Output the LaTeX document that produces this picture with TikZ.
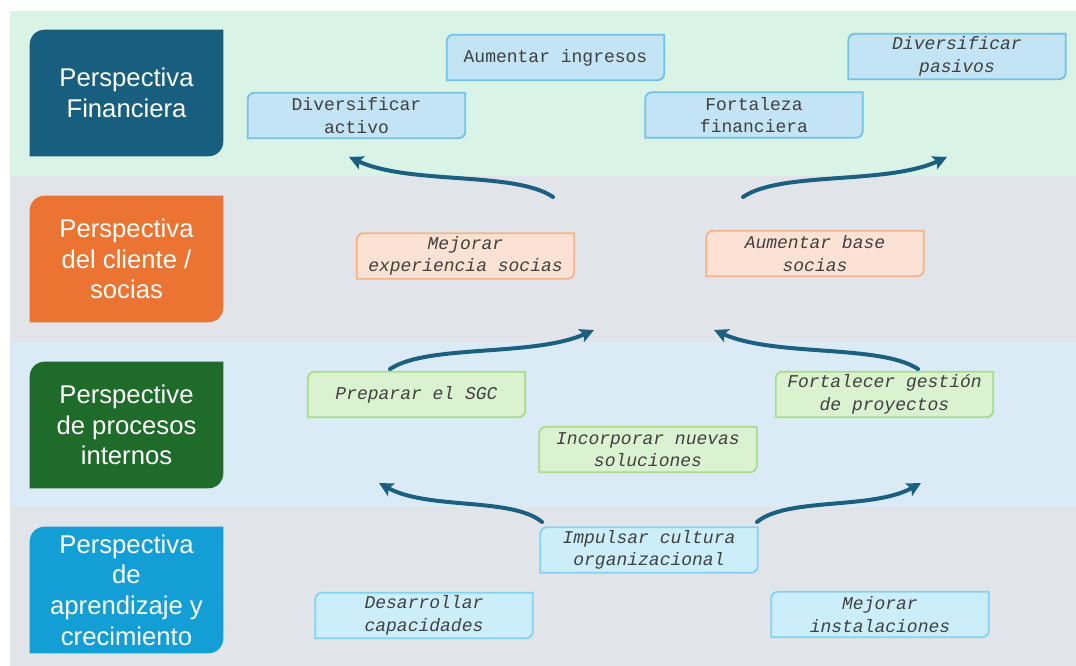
\documentclass[tikz,border=0pt]{standalone}
\usepackage{fontspec}
\setmainfont{Liberation Sans}
\newfontfamily\boxmono{Liberation Mono}
\usetikzlibrary{arrows.meta}
\pgfdeclarelayer{boxbg}
\pgfsetlayers{boxbg,main}
\definecolor{bandgreen}{HTML}{D9F3E6}
\definecolor{bandgray}{HTML}{E1E4E9}
\definecolor{bandblue}{HTML}{DBEBF5}
\definecolor{labfin}{HTML}{175E7F}
\definecolor{labcli}{HTML}{EC7432}
\definecolor{labpro}{HTML}{1E6B2A}
\definecolor{lablea}{HTML}{139FD6}
\definecolor{finfill}{HTML}{C2E4F4}
\definecolor{finline}{HTML}{75C2E8}
\definecolor{clifill}{HTML}{FBE2D4}
\definecolor{cliline}{HTML}{F6B38A}
\definecolor{profill}{HTML}{DAF2D0}
\definecolor{proline}{HTML}{A8DC8E}
\definecolor{leafill}{HTML}{CCEEFA}
\definecolor{lealine}{HTML}{85D3F2}
\definecolor{arrowcol}{HTML}{1B6080}
\definecolor{boxtext}{HTML}{404040}
\newcommand\diagshape[3]{%
  \begin{pgfonlayer}{boxbg}
  \path[#2] (#1.south west) [rounded corners=#3] -- (#1.north west) [sharp corners] -- (#1.north east) [rounded corners=#3] -- (#1.south east) [sharp corners] -- cycle;
  \end{pgfonlayer}}
\tikzset{
  labelbox/.style={inner sep=0pt, minimum width=144.75pt, minimum height=94.5pt, align=center, text=white, font=\fontsize{19.25pt}{23pt}\selectfont},
  smallbox/.style={inner sep=0pt, minimum width=162.75pt, minimum height=33.75pt, align=center, text=boxtext, font=\boxmono\fontsize{13.5pt}{17pt}\selectfont},
  itbox/.style={smallbox, font=\boxmono\itshape\fontsize{13.5pt}{17pt}\selectfont},
  finshape/.style={fill=finfill, draw=finline, line width=1.4pt},
  clishape/.style={fill=clifill, draw=cliline, line width=1.4pt},
  proshape/.style={fill=profill, draw=proline, line width=1.4pt},
  leashape/.style={fill=leafill, draw=lealine, line width=1.4pt},
  flow/.style={draw=arrowcol, line width=3pt, line cap=round, -{Stealth[length=10.5pt, width=10.5pt, inset=2.2pt]}},
}
\begin{document}
\begin{tikzpicture}[x=0.75pt, y=-0.75pt]
\useasboundingbox (0,0) rectangle (1076,666);
% bands
\begin{pgfonlayer}{boxbg}
\fill[white] (0,0) rectangle (1076,666);
\fill[bandgreen] (10,11) rectangle (1076,176);
\fill[bandgray] (10,176) rectangle (1076,342);
\fill[bandblue] (10,342) rectangle (1076,507);
\fill[bandgray] (10,507) rectangle (1076,666);
\end{pgfonlayer}
% perspective labels
\node[labelbox] (lfin) at (126.5,93) {Perspectiva\\Financiera};
\node[labelbox] (lcli) at (126.5,259) {Perspectiva\\del cliente /\\socias};
\node[labelbox] (lpro) at (126.5,425) {Perspective\\de procesos\\internos};
\node[labelbox] (llea) at (126.5,590) {Perspectiva\\de\\aprendizaje y\\crecimiento};
\diagshape{lfin}{fill=labfin}{11pt}
\diagshape{lcli}{fill=labcli}{11pt}
\diagshape{lpro}{fill=labpro}{11pt}
\diagshape{llea}{fill=lablea}{11pt}
% financial
\node[smallbox] (fa) at (356.5,115.5) {Diversificar\\activo};
\node[smallbox] (fb) at (555.5,57.5) {Aumentar ingresos};
\node[smallbox] (fc) at (754,115) {Fortaleza\\financiera};
\node[itbox] (fd) at (957,56.5) {Diversificar\\pasivos};
\diagshape{fa}{finshape}{5pt}
\diagshape{fb}{finshape}{5pt}
\diagshape{fc}{finshape}{5pt}
\diagshape{fd}{finshape}{5pt}
% client
\node[itbox] (ca) at (465.5,256) {Mejorar\\experiencia socias};
\node[itbox] (cb) at (815,253.5) {Aumentar base\\socias};
\diagshape{ca}{clishape}{5pt}
\diagshape{cb}{clishape}{5pt}
% processes
\node[itbox] (pa) at (416.5,394.5) {Preparar el SGC};
\node[itbox] (pb) at (884.5,394.5) {Fortalecer gestión\\de proyectos};
\node[itbox] (pc) at (648,449.5) {Incorporar nuevas\\soluciones};
\diagshape{pa}{proshape}{5pt}
\diagshape{pb}{proshape}{5pt}
\diagshape{pc}{proshape}{5pt}
% learning
\node[itbox] (la) at (649,550) {Impulsar cultura\\organizacional};
\node[itbox] (lb) at (424,615.5) {Desarrollar\\capacidades};
\node[itbox] (lc) at (880,614.5) {Mejorar\\instalaciones};
\diagshape{la}{leashape}{5pt}
\diagshape{lb}{leashape}{5pt}
\diagshape{lc}{leashape}{5pt}
% arrow end points
\coordinate (a1s) at (553,197); \coordinate (a1t) at (349,157);
\coordinate (a2s) at (743,197); \coordinate (a2t) at (947,157);
\coordinate (a3s) at (390,369); \coordinate (a3t) at (594,330);
\coordinate (a4s) at (918,369); \coordinate (a4t) at (714,330);
\coordinate (a5s) at (542,522); \coordinate (a5t) at (379,483);
\coordinate (a6s) at (757,522); \coordinate (a6t) at (921,483);
\draw[flow] (a1s) .. controls (515,171) and (410,185) .. (a1t);
\draw[flow] (a2s) .. controls (781,171) and (886,185) .. (a2t);
\draw[flow] (a3s) .. controls (428,344) and (533,357) .. (a3t);
\draw[flow] (a4s) .. controls (880,344) and (775,357) .. (a4t);
\draw[flow] (a5s) .. controls (512,497) and (428,510) .. (a5t);
\draw[flow] (a6s) .. controls (787,497) and (872,510) .. (a6t);
\end{tikzpicture}
\end{document}
